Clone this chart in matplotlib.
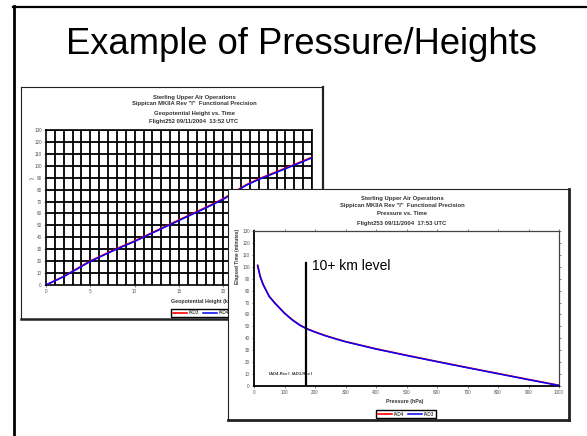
import matplotlib
matplotlib.use("Agg")
import matplotlib.pyplot as plt
from matplotlib.lines import Line2D
import numpy as np

plt.rcParams['font.family'] = ['Liberation Sans', 'DejaVu Sans']

# ---------------- data ----------------
slide_title = "Example of Pressure/Heights"

c1_titles = ["Sterling Upper Air Operations",
             "Sippican MKIIA Rev \"I\"  Functional Precision",
             "Geopotential Height vs. Time",
             "Flight252 09/11/2004  13:52 UTC"]
c1_height_km = [0, 2, 5, 8, 10, 12, 15, 18, 20, 22.6, 24, 26.4, 28, 30]
c1_iad3_min = [0, 7.3, 20.2, 30.6, 37, 44, 54.6, 65, 72.4, 84.2, 89, 96.2, 101, 107.2]
c1_iad4_min = [0, 7.0, 19.8, 30.2, 36.5, 43.6, 54.1, 64.5, 71.9, 83.7, 88.5, 95.7, 100.5, 106.7]
c1_xticks = [0, 5, 10, 15, 20, 25, 30]
c1_yticks = list(range(0, 131, 10))
c1_xlabel = "Geopotential Height (km)"
c1_legend = ["IAD3", "IAD4"]

c2_titles = ["Sterling Upper Air Operations",
             "Sippican MKIIA Rev \"I\"  Functional Precision",
             "Pressure vs. Time",
             "Flight253 09/11/2004  17:53 UTC"]
c2_pressure = [12, 20, 30, 50, 70, 100, 125, 150, 172, 200, 233, 266, 300,
               400, 500, 600, 700, 800, 900, 1000]
c2_iad4_min = [101.2, 92.2, 85.2, 75.2, 69.2, 61.2, 55.7, 51.2, 48.2, 45.4, 42.4,
               39.8, 37.3, 31.2, 25.8, 20.6, 15.5, 10.5, 5.5, 0.6]
c2_iad3_min = [101, 92, 85, 75, 69, 61, 55.5, 51, 48, 45.2, 42.2,
               39.6, 37.1, 31, 25.6, 20.4, 15.3, 10.3, 5.3, 0.4]
c2_xticks = list(range(0, 1001, 100))
c2_yticks = list(range(0, 131, 10))
c2_xlabel = "Pressure (hPa)"
c2_ylabel = "Elapsed Time (minutes)"
c2_legend = ["IAD4", "IAD3"]
marker_pressure = 172
marker_top = 103.5
marker_text = "10+ km level"
rev_text = "IAD4-Rev I  IAD3-Rev I"

# ---------------- layout ----------------
W, H = 587, 436
fig = plt.figure(figsize=(W / 100, H / 100), dpi=100)
fig.patch.set_facecolor('white')


def fr(x0, y0, x1, y1):
    return [x0 / W, 1 - y1 / H, (x1 - x0) / W, (y1 - y0) / H]


def fx(x):
    return x / W


def fy(y):
    return 1 - y / H


# slide frame
fig.add_artist(Line2D([fx(14), fx(14)], [fy(6), fy(440)], color='black', lw=2.0))
fig.add_artist(Line2D([fx(13), fx(590)], [fy(7), fy(7)], color='black', lw=1.6))
fig.text(fx(302), fy(45), slide_title, ha='center', va='center', fontsize=26.2)

tick_color = '#555555'
tfs = 3.3

# ---------- chart 1 ----------
p1 = fig.add_axes(fr(21, 87, 323, 319), zorder=1)
p1.set_xticks([]); p1.set_yticks([])
p1.set_facecolor('white')
for s, lw in zip(['left', 'top', 'right', 'bottom'], [0.8, 0.8, 1.6, 1.8]):
    p1.spines[s].set_linewidth(lw)
    p1.spines[s].set_color('#222222')
for i, (t, yy) in enumerate(zip(c1_titles, [97, 104, 113, 122])):
    p1.text(fx(194), fy(yy), t, transform=fig.transFigure, ha='center', va='center',
            fontsize=4.2, fontweight='bold', color='#333333')
p1.text(fx(171), fy(301), c1_xlabel, transform=fig.transFigure, ha='left', va='center',
        fontsize=3.8, fontweight='bold', color='#333333')
p1.text(fx(32), fy(178), ")", transform=fig.transFigure, ha='center', va='center',
        fontsize=4, rotation=90, color='#333333')

a1 = fig.add_axes(fr(46, 130, 312, 285), zorder=2)
a1.set_facecolor('white')
a1.set_xlim(0, 30)
a1.set_ylim(0, 130)
for v in np.arange(1, 31, 1):
    a1.axvline(v, color='black', lw=1.3, zorder=1)
for v in c1_yticks[1:]:
    a1.axhline(v, color='black', lw=1.3, zorder=1)
l13, = a1.plot(c1_height_km, c1_iad3_min, color='#ff0000', lw=1.2, zorder=3)
l14, = a1.plot(c1_height_km, c1_iad4_min, color='#0000ff', lw=1.1, zorder=4)
a1.set_xticks(c1_xticks)
a1.set_yticks(c1_yticks)
a1.tick_params(labelsize=tfs, colors=tick_color, length=1.5, width=0.5, pad=1.5)
for s in a1.spines.values():
    s.set_color('black'); s.set_linewidth(1.2)
a1.legend([l13, l14], c1_legend, loc='center', bbox_to_anchor=(fx(201), fy(313)),
          bbox_transform=fig.transFigure, ncol=2, fontsize=3.3, frameon=True,
          fancybox=False, edgecolor='black', framealpha=1, handlelength=3,
          borderpad=0.3, columnspacing=1.0, handletextpad=0.4)

# ---------- chart 2 ----------
p2 = fig.add_axes(fr(228, 189, 569, 420), zorder=3)
p2.set_xticks([]); p2.set_yticks([])
p2.set_facecolor('white')
for s, lw in zip(['left', 'top', 'right', 'bottom'], [0.8, 0.8, 2.0, 2.0]):
    p2.spines[s].set_linewidth(lw)
    p2.spines[s].set_color('#222222')
for t, yy in zip(c2_titles, [198, 205, 213, 223]):
    p2.text(fx(402), fy(yy), t, transform=fig.transFigure, ha='center', va='center',
            fontsize=4.2, fontweight='bold', color='#333333')
p2.text(fx(405), fy(401), c2_xlabel, transform=fig.transFigure, ha='center', va='center',
        fontsize=3.8, fontweight='bold', color='#333333')
p2.text(fx(237), fy(256), c2_ylabel, transform=fig.transFigure, ha='center', va='center',
        fontsize=3.5, fontweight='bold', rotation=90, color='#333333')

a2 = fig.add_axes(fr(254, 231, 559, 386), zorder=4)
a2.set_facecolor('white')
a2.set_xlim(0, 1000)
a2.set_ylim(0, 130)
l24, = a2.plot(c2_pressure, c2_iad4_min, color='#ff0000', lw=1.2, zorder=3)
l23, = a2.plot(c2_pressure, c2_iad3_min, color='#0000ff', lw=1.1, zorder=4)
a2.plot([marker_pressure, marker_pressure], [0, marker_top], color='black', lw=1.6, zorder=5)
a2.text(190, 100.8, marker_text, ha='left', va='center', fontsize=10)
a2.text(50, 10, rev_text, ha='left', va='center', fontsize=3.0, fontweight='bold',
        color='#333333')
a2.set_xticks(c2_xticks)
a2.set_yticks(c2_yticks)
a2.tick_params(labelsize=tfs, colors=tick_color, length=1.5, width=0.5, pad=1.5)
a2.tick_params(which='both', top=True, right=True, labeltop=False, labelright=False)
for s in ['left', 'bottom']:
    a2.spines[s].set_color('black'); a2.spines[s].set_linewidth(1.3)
for s in ['top', 'right']:
    a2.spines[s].set_color('#444444'); a2.spines[s].set_linewidth(0.9)
a2.legend([l24, l23], c2_legend, loc='center', bbox_to_anchor=(fx(406), fy(414)),
          bbox_transform=fig.transFigure, ncol=2, fontsize=3.3, frameon=True,
          fancybox=False, edgecolor='black', framealpha=1, handlelength=3,
          borderpad=0.3, columnspacing=1.0, handletextpad=0.4)

fig.savefig("out.png", dpi=100)
